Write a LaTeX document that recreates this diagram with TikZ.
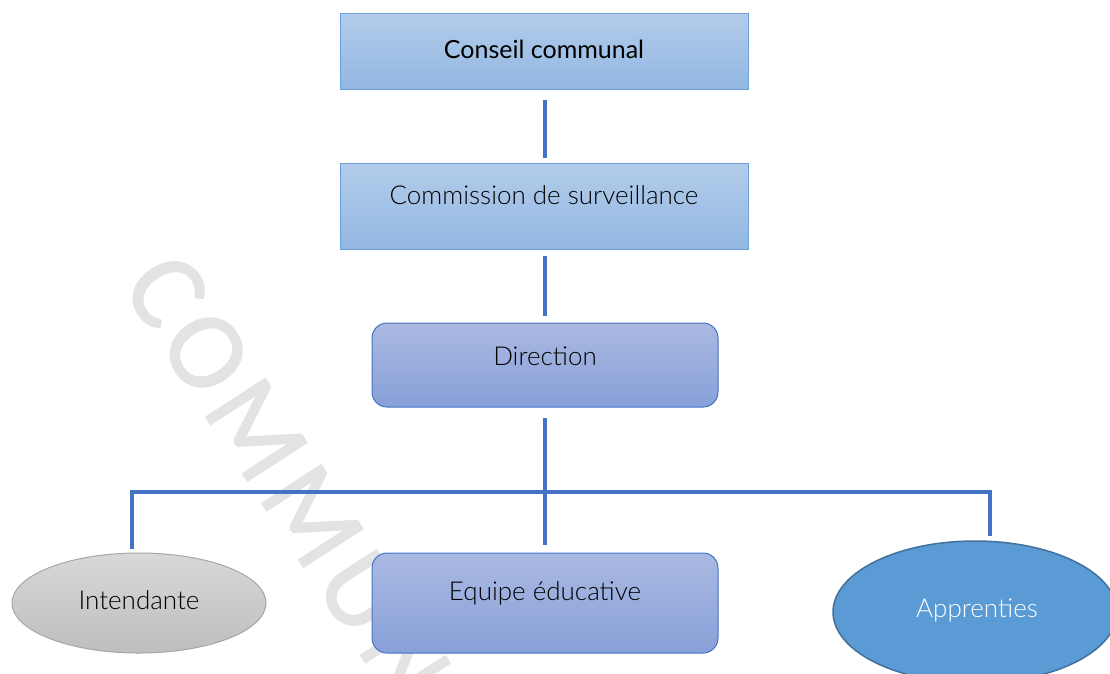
\documentclass[tikz,border=0pt]{standalone}
\usepackage{fontspec}
\IfFontExistsTF{Lato Light}{\setmainfont{Lato Light}}{\setmainfont{Lato}}
\newfontfamily\regfont{Lato}
\newfontfamily\wmfont[LetterSpace=8, FakeBold=1.5]{Carlito}
\usetikzlibrary{shapes.geometric}
\definecolor{boxtop}{HTML}{B2CCEA}
\definecolor{boxbot}{HTML}{93B7E2}
\definecolor{boxline}{HTML}{6A9FDB}
\definecolor{rtop}{HTML}{AAB9E2}
\definecolor{rbot}{HTML}{88A0D8}
\definecolor{conncol}{HTML}{4472C4}
\definecolor{gtop}{HTML}{D8D8D8}
\definecolor{gbot}{HTML}{BEBEBE}
\definecolor{gline}{HTML}{A6A6A6}
\definecolor{afill}{HTML}{5B9BD5}
\definecolor{aline}{HTML}{41719C}
\definecolor{wmcol}{HTML}{E3E3E3}
\tikzset{
  sqbox/.style={draw=boxline, line width=1pt, top color=boxtop, bottom color=boxbot, minimum width=408, inner sep=0pt},
  rbox/.style={draw=conncol, line width=1pt, top color=rtop, bottom color=rbot, rounded corners=15pt, minimum width=346, inner sep=0pt},
  lbl/.style={font=\fontsize{26}{30}\selectfont, text=black, inner sep=0pt},
  conn/.style={draw=conncol, line width=4.5pt},
  connthin/.style={draw=conncol, line width=4pt},
}
\begin{document}
\begin{tikzpicture}[x=1pt,y=-1pt]
\useasboundingbox (0,0) rectangle (1110,673);
\clip (0,0) rectangle (1110,673);
\fill[white] (0,0) rectangle (1110,673);
% watermark
\node[anchor=west, rotate=-57, inner sep=0pt, text=wmcol, font=\wmfont\fontsize{110}{110}\selectfont] (wm) at (150,266) {COMMUNE};
% boxes
\node[sqbox, minimum height=76] (conseil) at (544,51) {};
\node[lbl, font=\regfont\fontsize{25}{30}\selectfont] (tconseil) at (544,49) {Conseil communal};
\node[sqbox, minimum height=86] (comm) at (544,206) {};
\node[lbl] (tcomm) at (544,195) {Commission de surveillance};
\node[rbox, minimum height=84] (dir) at (545,365) {};
\node[lbl] (tdir) at (545,356) {Direction};
\node[rbox, minimum height=100] (equipe) at (545,603) {};
\node[lbl] (tequipe) at (545,593) {Equipe éducative};
\node[ellipse, draw=gline, line width=1pt, top color=gtop, bottom color=gbot, minimum width=254, minimum height=100, inner sep=0pt] (intend) at (139,603) {};
\node[lbl] (tintend) at (139,600) {Intendante};
\node[ellipse, draw=aline, line width=1.5pt, fill=afill, minimum width=284, minimum height=142, inner sep=0pt] (appr) at (975,612) {};
\node[lbl, text=white] (tappr) at (977,610) {Apprenties};
% connectors
\coordinate (hl) at (132,492);
\coordinate (hr) at (990,492);
\draw[conn, shorten <=10pt, shorten >=5pt] (conseil.south -| dir.north) -- (comm.north -| dir.north);
\draw[conn, shorten <=6pt, shorten >=7pt] (comm.south -| dir.north) -- (dir.north);
\draw[connthin, shorten <=10pt, shorten >=8pt] (dir.south) -- (equipe.north);
\draw[connthin, shorten <=4pt, shorten >=4pt, line join=miter] (hl |- intend.north) -- (hl) -- (hr) -- (hr |- appr.north);
\end{tikzpicture}
\end{document}
